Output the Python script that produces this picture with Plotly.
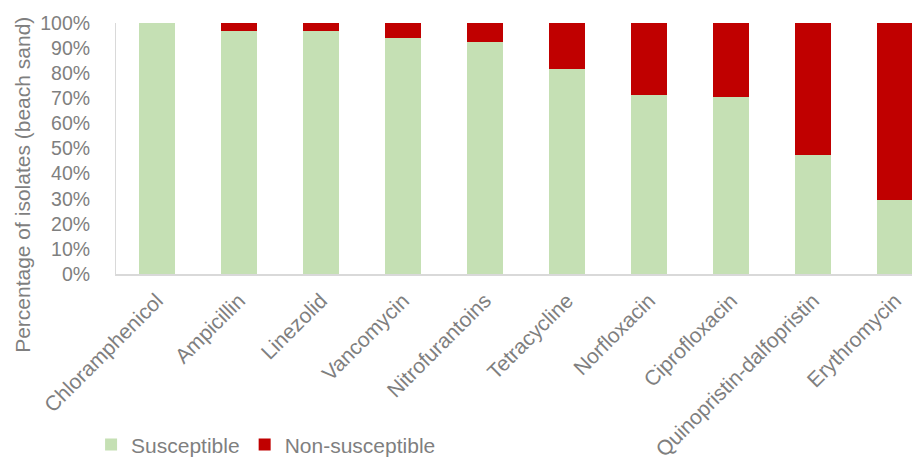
import plotly.graph_objects as go

antibiotics = ["Chloramphenicol", "Ampicillin", "Linezolid", "Vancomycin", "Nitrofurantoins",
               "Tetracycline", "Norfloxacin", "Ciprofloxacin", "Quinopristin-dalfopristin", "Erythromycin"]
susceptible = [100, 97, 97, 94, 92.5, 81.5, 71.5, 70.5, 47.5, 29.5]
non_susceptible = [100 - v for v in susceptible]
y_ticks = list(range(0, 101, 10))
y_tick_labels = [f"{v}%" for v in y_ticks]

FONT = "Liberation Sans, Arial, sans-serif"
GRAY = "#7F7F7F"

fig = go.Figure()
fig.add_bar(x=antibiotics, y=susceptible, name="Susceptible",
            marker=dict(color="#C5E0B4", line=dict(width=0)), width=0.45)
fig.add_bar(x=antibiotics, y=non_susceptible, name="Non-susceptible",
            marker=dict(color="#C00000", line=dict(width=0)), width=0.45)

fig.update_layout(
    barmode="stack",
    width=920, height=475,
    margin=dict(l=108, r=8, t=15, b=209, autoexpand=False),
    paper_bgcolor="white", plot_bgcolor="white",
    font=dict(family=FONT, color=GRAY, size=21),
    showlegend=True,
    legend=dict(orientation="h", x=-0.031, xanchor="left", y=-0.681, yanchor="middle",
                font=dict(size=21, color=GRAY), traceorder="normal",
                itemwidth=30, tracegroupgap=0),
    annotations=[dict(text="Percentage of isolates (beach sand)", textangle=-90,
                      xref="paper", yref="paper", x=-0.1157, y=0.355,
                      xanchor="center", yanchor="middle", showarrow=False,
                      font=dict(size=21, color=GRAY, family=FONT))],
)
fig.update_xaxes(range=[-0.5, 9.305], tickangle=-45, showline=True, linecolor="#D9D9D9",
                 linewidth=2, ticks="", tickfont=dict(size=21, color=GRAY), showgrid=False,
                 automargin=False, ticklabelstandoff=4)
fig.update_yaxes(range=[0, 100], tickvals=y_ticks, ticktext=y_tick_labels, showline=True,
                 linecolor="#D9D9D9", linewidth=1, showgrid=False, ticks="", ticklen=0,
                 tickfont=dict(size=19.5, color=GRAY), automargin=False,
                 ticklabelstandoff=21)

fig.write_html("out.html")
